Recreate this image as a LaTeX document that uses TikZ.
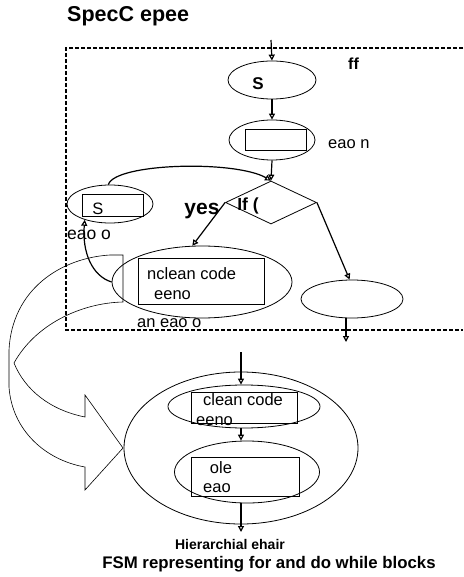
\documentclass[tikz,border=0pt]{standalone}
\usepackage{fontspec}
\setmainfont{Liberation Sans}
\usetikzlibrary{shapes.geometric,arrows.meta}

\tikzset{
  state/.style={draw, ellipse, line width=0.8pt, inner sep=0pt},
  box/.style={draw, line width=0.8pt, inner sep=0pt},
  flow/.style={-{Triangle[open,length=6pt,width=6pt]}, line width=1.2pt},
  lbl/.style={inner sep=0pt, font=\fontsize{16.5}{17}\selectfont},
  blbl/.style={inner sep=0pt, font=\bfseries\fontsize{16}{17}\selectfont}
}

\begin{document}
\begin{tikzpicture}[x=1pt, y=-1pt]
  \useasboundingbox (0,0) rectangle (463,577);
  \node[blbl, font=\bfseries\fontsize{21.5}{22}\selectfont, anchor=west] (title) at (67,16) {SpecC epee};
  \draw[line width=1.5pt, dash pattern=on 4pt off 2pt] (463,48) -- (66,48) -- (66,330) -- (463,330);
  \node[blbl, anchor=west] (ff) at (348,64) {ff};

  % upper fsm
  \coordinate (in) at (271,40);
  \node[state, minimum width=88pt, minimum height=38pt] (start) at (272,80) {};
  \node[blbl, font=\bfseries\fontsize{17}{17}\selectfont] (startlbl) at (258,84) {S};
  \node[state, minimum width=86pt, minimum height=40pt] (body) at (272,140) {};
  \node[box, minimum width=61pt, minimum height=21pt] (bodybox) at (275.5,139.5) {};
  \node[lbl, anchor=west] (bodylbl) at (328,144) {eao n};
  \node[draw, diamond, line width=0.8pt, inner sep=0pt, minimum width=91pt, minimum height=43pt] (cond) at (271,202.5) {};
  \node[blbl, font=\bfseries\fontsize{17.5}{18}\selectfont] (condlbl) at (248,206) {If (};
  \node[state, minimum width=86pt, minimum height=38pt] (loopst) at (110,204) {};
  \node[box, minimum width=61pt, minimum height=22pt] (loopstbox) at (112.5,205) {};
  \node[lbl] (loopstlbl) at (98,209) {S};
  \node[lbl, font=\fontsize{17.5}{18}\selectfont, anchor=west] (loopstname) at (67,235) {eao o};
  \node[blbl, font=\bfseries\fontsize{21}{21}\selectfont] (yes) at (202,211) {yes};
  \node[state, minimum width=180pt, minimum height=72pt] (loopbody) at (202,282) {};
  \node[box, minimum width=126pt, minimum height=46pt] (loopbodybox) at (201,281) {};
  \node[lbl, anchor=west] (lb1) at (147,274) {nclean code};
  \node[lbl, anchor=west] (lb2) at (154,295) {eeno};
  \node[lbl, anchor=west] (loopbodyname) at (137,323) {an eao o};
  \node[state, minimum width=102pt, minimum height=38pt] (exit) at (352,299) {};
  \coordinate (out) at (346,342);

  \draw[flow] (in) -- (start.north);
  \draw[flow] (start.south) -- (body.north);
  \draw[flow] (body.south) -- (cond.north);
  \draw[flow] (cond.west) -- (loopbody.105);
  \draw[flow] (cond.east) -- (exit.97);
  \draw[flow] (exit.south -| out) -- (out);
  \draw[flow] (loopbody.west) .. controls (92,276) and (82,252) .. (loopst.212);
  \draw[flow] (loopst.95) .. controls (115,163) and (235,160) .. (cond.north);

  % hollow arrow
  \draw[line width=0.6pt] (123,255) -- (110,255) .. controls (60,258) and (12,290) .. (9,350) -- (9,387)
    .. controls (12,430) and (45,460) .. (85,467) -- (85,490) -- (123,448) -- (85,395) -- (85,417)
    .. controls (50,410) and (25,390) .. (14,363) .. controls (35,325) and (80,303) .. (123,302) -- cycle;

  % hierarchical fsm
  \coordinate (in2) at (241,352);
  \node[state, minimum width=234pt, minimum height=152pt] (hier) at (241,448) {};
  \node[state, minimum width=152pt, minimum height=43pt] (sub1) at (244,406.5) {};
  \node[box, minimum width=106pt, minimum height=31pt] (sub1box) at (244,407.5) {};
  \node[lbl] (s1a) at (243,400) {clean code};
  \node[lbl, anchor=west] (s1b) at (196,421) {eeno};
  \node[state, minimum width=145pt, minimum height=62pt] (sub2) at (247,472) {};
  \node[box, minimum width=108pt, minimum height=39pt] (sub2box) at (245,476.5) {};
  \node[lbl] (s2a) at (221,468) {ole};
  \node[lbl, anchor=west] (s2b) at (203,488) {eao};
  \coordinate (out2) at (241,532);

  \draw[flow] (in2) -- (in2 |- sub1.north);
  \draw[flow] (in2 |- sub1.south) -- (in2 |- sub2.north);
  \draw[flow] (in2 |- sub2.south) -- (out2);

  \node[blbl, font=\bfseries\fontsize{14}{14}\selectfont] (hiername) at (230,544) {Hierarchial ehair};
  \node[blbl, font=\bfseries\fontsize{16.8}{17}\selectfont] (caption) at (269,564) {FSM representing for and do while blocks};
\end{tikzpicture}
\end{document}
